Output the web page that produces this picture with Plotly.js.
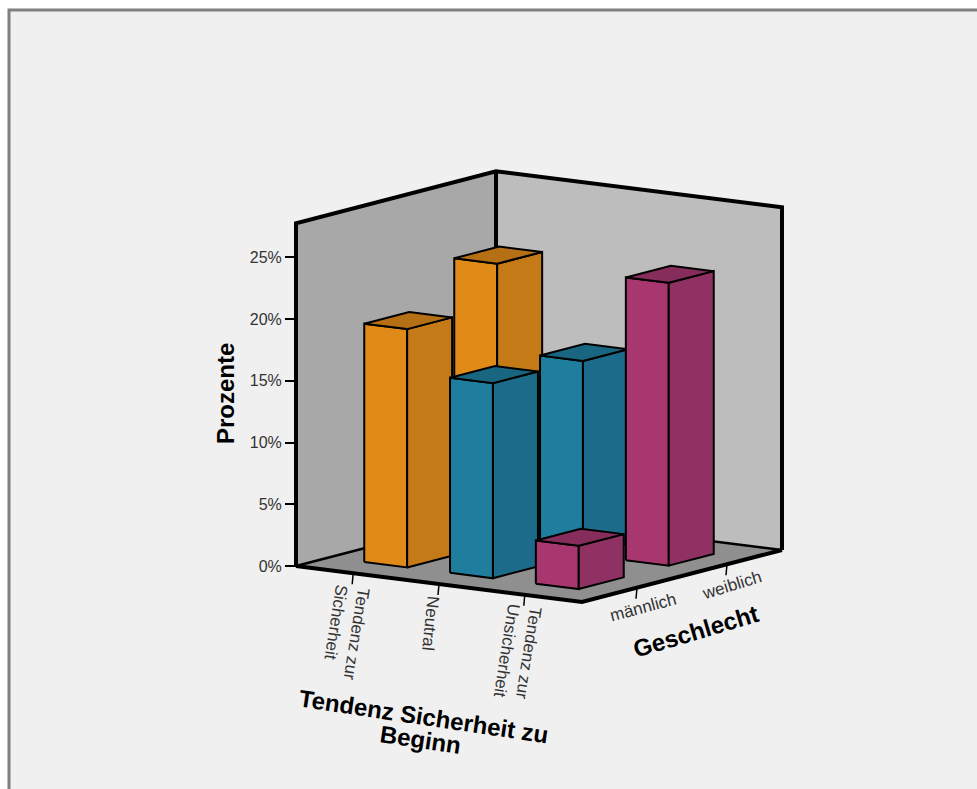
<!DOCTYPE html>
<html lang="de">
<head>
<meta charset="utf-8">
<title>Tendenz Sicherheit zu Beginn nach Geschlecht</title>
<script src="https://cdn.plot.ly/plotly-3.0.1.min.js"></script>
<style>html,body{margin:0;padding:0;background:#fff;overflow:hidden}</style>
</head>
<body>
<div id="chart" style="width:977px;height:789px"></div>
<script>
// Chart values: share of all respondents in percent
const categories = ['Tendenz zur<br>Sicherheit', 'Neutral', 'Tendenz zur<br>Unsicherheit'];
const genders = ['männlich', 'weiblich'];
const maleShare = [19.3, 15.8, 3.5];
const femaleShare = [22.7, 15.7, 22.9];
const percentTicks = [0, 5, 10, 15, 20, 25];

// Fill colours for the bar faces, per category
const faceFront = ['#e08a17', '#1f7d9e', '#a8376f'];
const faceSide = ['#c57a18', '#1c6b8b', '#8f3162'];
const faceTop = ['#b56f14', '#186680', '#862d5c'];

// Oblique projection of the (category, gender, percent) box onto the page
const originX = 296, originY = 566, pxPerPercent = 12.35;
const catStep = [95.33, 12], genderStep = [100, -26];
const catCount = 3, genderCount = 2, wallTop = 27.75;
const catCentre = i => 0.6 + 0.9 * i;
const genderCentre = j => 0.55 + 0.9 * j;
const halfBar = 0.225;

const pX = (u, v) => originX + u * catStep[0] + v * genderStep[0];
const pY = (u, v, z) => z - (u * catStep[1] + v * genderStep[1]) / pxPerPercent;
const pageY = py => (originY - py) / pxPerPercent;

function poly(points, fill, width, color) {
  return {
    type: 'scatter', mode: 'lines', hoverinfo: 'skip', showlegend: false,
    x: points.map(p => pX(p[0], p[1])),
    y: points.map(p => pY(p[0], p[1], p[2])),
    fill: fill ? 'toself' : 'none', fillcolor: fill || undefined,
    line: {color: color || '#000', width: width, simplify: false}
  };
}

const traces = [];

// Walls and floor
traces.push(poly([[0,0,0],[0,2,0],[0,2,wallTop],[0,0,wallTop],[0,0,0]], '#a8a8a8', 0.01, '#a8a8a8'));
traces.push(poly([[0,2,0],[3,2,0],[3,2,wallTop],[0,2,wallTop],[0,2,0]], '#bdbdbd', 0.01, '#bdbdbd'));
traces.push(poly([[0,0,0],[3,0,0],[3,2,0],[0,2,0],[0,0,0]], '#8f8f8f', 0.01, '#8f8f8f'));
traces.push(poly([[0,0,0],[0,2,0],[3,2,0]], null, 2.5));
traces.push(poly([[0,0,0],[0,0,wallTop],[0,2,wallTop],[3,2,wallTop],[3,2,0]], null, 4));
traces.push(poly([[0,2,0],[0,2,wallTop]], null, 4));
traces.push(poly([[0,0,0],[3,0,0],[3,2,0]], null, 4));

// Bars, painted from the back row forward
[femaleShare, maleShare].forEach((values, row) => {
  const j = genderCount - 1 - row;
  values.forEach((value, i) => {
    const u0 = catCentre(i) - halfBar, u1 = catCentre(i) + halfBar;
    const v0 = genderCentre(j) - halfBar, v1 = genderCentre(j) + halfBar;
    traces.push(poly([[u0,v0,0],[u1,v0,0],[u1,v0,value],[u0,v0,value],[u0,v0,0]], faceFront[i], 2));
    traces.push(poly([[u1,v0,0],[u1,v1,0],[u1,v1,value],[u1,v0,value],[u1,v0,0]], faceSide[i], 2));
    traces.push(poly([[u0,v0,value],[u1,v0,value],[u1,v1,value],[u0,v1,value],[u0,v0,value]], faceTop[i], 2));
  });
});

// Tick marks along the two floor edges
const tickDrop = 11 / pxPerPercent;
function tick(u, v) {
  return {
    type: 'scatter', mode: 'lines', hoverinfo: 'skip', showlegend: false,
    x: [pX(u, v), pX(u, v) - 1],
    y: [pY(u, v, 0), pY(u, v, 0) - tickDrop],
    line: {color: '#000', width: 1.5}
  };
}
categories.forEach((_, i) => traces.push(tick(catCentre(i), 0)));
genders.forEach((_, j) => traces.push(tick(catCount, genderCentre(j))));

// Text placed in the planes of the floor edges
const labelFont = {family: 'Liberation Sans, Arial, sans-serif', size: 17, color: '#333'};
const titleFont = {family: 'Liberation Sans, Arial, sans-serif', size: 24, color: '#000'};
function note(text, x, y, angle, font, align) {
  return {
    text: text, x: x, y: pageY(y), xref: 'x', yref: 'y', showarrow: false,
    xanchor: 'center', yanchor: 'middle', textangle: angle, font: font, align: align || 'center'
  };
}
const annotations = [
  note(categories[0], 346, 632, 99, labelFont, 'left'),
  note(categories[1], 431, 623, 96, labelFont, 'left'),
  note(categories[2], 518, 652, 99, labelFont, 'left'),
  note(genders[0], 643, 607, -15, labelFont),
  note(genders[1], 731, 585, -17, labelFont),
  note('<b>Prozente</b>', 225, 394, -90, titleFont),
  note('<b>Geschlecht</b>', 695, 631, -16.5, titleFont),
  note('<b>Tendenz Sicherheit zu</b>', 424, 716, 8.5, titleFont),
  note('<b>Beginn</b>', 420, 739, 8.5, titleFont)
];

const layout = {
  width: 977, height: 789,
  margin: {l: 0, r: 0, t: 0, b: 0},
  paper_bgcolor: '#ffffff', plot_bgcolor: 'rgba(0,0,0,0)',
  showlegend: false,
  xaxis: {range: [0, 977], visible: false, fixedrange: true},
  yaxis: {
    range: [pageY(789), pageY(0)], fixedrange: true,
    anchor: 'free', position: originX / 977,
    tickmode: 'array', tickvals: percentTicks, ticktext: percentTicks.map(t => t + '%'),
    ticks: 'outside', ticklen: 11, tickwidth: 2, tickcolor: '#000',
    tickfont: {family: 'Liberation Sans, Arial, sans-serif', size: 16, color: '#333'},
    showgrid: false, zeroline: false, showline: false
  },
  // Panel background with its grey border
  shapes: [{
    type: 'rect', layer: 'below', xref: 'x', yref: 'paper',
    x0: 9, x1: 1100, y0: -0.1, y1: 1 - 10 / 789,
    fillcolor: '#f0f0f0', line: {color: '#7f7f7f', width: 3}
  }],
  annotations: annotations
};

Plotly.newPlot('chart', traces, layout, {displayModeBar: false, staticPlot: true});
</script>
</body>
</html>
